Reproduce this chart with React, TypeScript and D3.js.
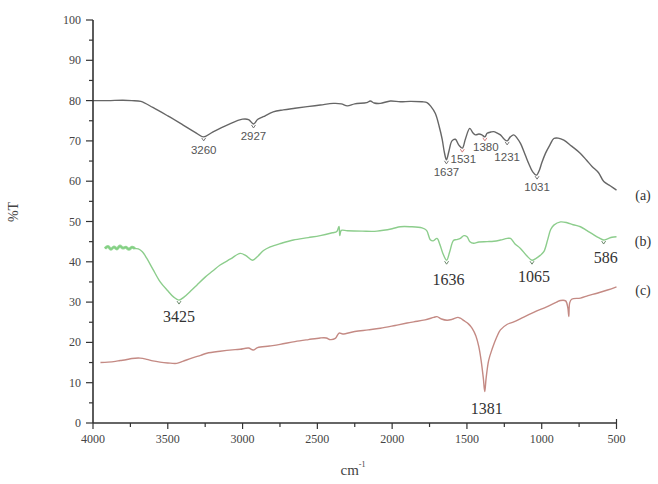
import React from "react";
import * as d3 from "d3";

const W = 658;
const H = 484;

// Series (a): wavenumber (cm^-1) and %T
const waveA = [4000, 3900, 3800, 3740, 3680, 3600, 3500, 3400, 3320, 3260, 3200, 3100, 3000, 2960, 2927, 2900, 2862, 2795, 2728, 2650, 2568, 2480, 2394, 2340, 2300, 2250, 2170, 2146, 2120, 2079, 2012, 1945, 1880, 1800, 1767, 1740, 1711, 1685, 1666, 1650, 1637, 1620, 1600, 1577, 1555, 1531, 1510, 1481, 1460, 1443, 1420, 1400, 1380, 1365, 1340, 1321, 1300, 1276, 1250, 1231, 1210, 1187, 1165, 1142, 1110, 1087, 1060, 1035, 1015, 1000, 975, 945, 919, 890, 852, 800, 741, 700, 662, 620, 585, 540, 500];
const transA = [80, 80, 80.1, 80, 79.8, 78.3, 76.2, 74, 72.2, 71, 72.2, 74, 75.4, 75.3, 74.2, 75.3, 76, 77.2, 77.7, 78.1, 78.5, 78.9, 79.3, 79.2, 78.7, 79.2, 79.5, 79.9, 79.4, 79.3, 79.9, 79.7, 79.8, 79.7, 79.5, 78.5, 76.8, 73.5, 70.5, 67, 65.3, 67.5, 70, 70.4, 69, 68.2, 70.5, 73.1, 72, 71.5, 71.7, 71.5, 71, 71.9, 72.2, 72.3, 72, 71.5, 70.4, 70, 71, 71.5, 70.7, 69.4, 66.5, 64.4, 62.3, 61.5, 62.8, 64.5, 66.9, 69, 70.6, 70.7, 70.2, 68.7, 66.9, 65.2, 63.6, 62.1, 59.9, 58.8, 57.8];

// Series (b)
const waveB = [3920, 3900, 3880, 3860, 3840, 3820, 3800, 3780, 3760, 3740, 3720, 3697, 3670, 3641, 3600, 3552, 3500, 3462, 3425, 3390, 3340, 3306, 3250, 3200, 3150, 3080, 3016, 2980, 2935, 2900, 2860, 2815, 2740, 2660, 2560, 2481, 2400, 2370, 2355, 2350, 2340, 2300, 2200, 2101, 2000, 1945, 1878, 1800, 1770, 1745, 1725, 1700, 1680, 1660, 1636, 1615, 1590, 1570, 1544, 1520, 1499, 1480, 1455, 1420, 1365, 1320, 1276, 1230, 1209, 1180, 1142, 1100, 1065, 1040, 1010, 986, 960, 940, 919, 874, 830, 790, 741, 700, 652, 620, 586, 560, 530, 500];
const transB = [43.3, 43.8, 43.1, 43.7, 43.2, 43.9, 43.4, 43.6, 43.1, 43.6, 43.3, 43.2, 42.5, 40.9, 38.2, 35.1, 32.8, 31.3, 30.5, 31.3, 33, 34.2, 36.2, 37.7, 39.2, 40.7, 42.1, 41.6, 40.4, 41.3, 42.8, 43.7, 44.6, 45.4, 46, 46.5, 47.2, 47.5, 48.8, 46.5, 47.8, 47.7, 47.6, 47.6, 48.2, 48.7, 48.7, 48.4, 47.8, 45.5, 45.2, 45.8, 44.2, 42, 40.4, 42.5, 45.3, 45.5, 45.8, 46.5, 46.2, 45, 44.6, 44.9, 45, 45.1, 45.4, 45.8, 45.8, 44.5, 43.3, 41.5, 40.4, 40.8, 41.6, 42.5, 45.5, 48, 49.1, 49.9, 49.7, 49.2, 48.7, 47.8, 46.7, 46, 45.4, 45.7, 46.1, 46.2];

// Series (c)
const waveC = [3950, 3900, 3850, 3819, 3780, 3740, 3685, 3640, 3600, 3552, 3500, 3440, 3400, 3340, 3280, 3239, 3150, 3050, 3016, 2960, 2929, 2900, 2820, 2749, 2650, 2560, 2481, 2440, 2414, 2380, 2355, 2330, 2250, 2160, 2079, 1980, 1900, 1856, 1780, 1722, 1700, 1670, 1633, 1600, 1560, 1544, 1520, 1490, 1465, 1440, 1421, 1405, 1390, 1381, 1372, 1355, 1331, 1300, 1276, 1230, 1187, 1120, 1050, 963, 900, 874, 840, 825, 819, 813, 800, 741, 690, 630, 560, 500];
const transC = [15, 15.1, 15.3, 15.5, 15.7, 16, 16.1, 15.8, 15.4, 15.1, 14.9, 14.8, 15.3, 16.1, 16.8, 17.3, 17.8, 18.2, 18.3, 18.6, 18.1, 18.7, 19.1, 19.5, 20.2, 20.7, 21.1, 21.1, 20.7, 21, 22.3, 22.1, 22.7, 23.1, 23.5, 24.2, 24.8, 25.1, 25.6, 26.2, 26.4, 25.8, 25.5, 25.7, 26.2, 26, 25.4, 24.6, 23.5, 21.6, 19, 15.5, 11, 7.8, 11, 15.5, 18.4, 21.4, 23.1, 24.5, 25.1, 26.3, 27.5, 28.9, 30, 30.4, 30.3, 28.5, 26.4, 29.8, 30.7, 31, 31.6, 32.2, 33, 33.8];

// Peak annotations
const peaksA = [3260, 2927, 1637, 1531, 1380, 1231, 1031];
const peakTA = [71, 74.2, 65.3, 68.2, 71, 70, 61.5];
const peakLabelsA = ["3260", "2927", "1637", "1531", "1380", "1231", "1031"];
const peaksB = [3425, 1636, 1065, 586];
const peakTB = [30.5, 40.4, 40.4, 45.4];
const peakLabelsB = ["3425", "1636", "1065", "586"];
const peaksC = [1381];
const peakTC = [7.8];
const peakLabelsC = ["1381"];

const seriesNames = ["(a)", "(b)", "(c)"];
const seriesEndT = [57.8, 46.2, 33.8];

const xTicks = [4000, 3500, 3000, 2500, 2000, 1500, 1000, 500];
const yTicks = [0, 10, 20, 30, 40, 50, 60, 70, 80, 90, 100];

const x = d3.scaleLinear().domain([4000, 500]).range([93, 616.5]);
const y = d3.scaleLinear().domain([0, 100]).range([423, 20]);

const line = d3
  .line<[number, number]>()
  .x((d) => x(d[0]))
  .y((d) => y(d[1]))
  .curve(d3.curveCatmullRom.alpha(0.5));

const zip = (a: number[], b: number[]): [number, number][] => a.map((v, i) => [v, b[i]]);

const colA = "#666";
const colB = "#8ccd8c";
const colC = "#c48a84";

const dyA = [17, 16, 16, 15, 14, 20, 16];
const dxA = [0, 0, 0, 1, 1, 0, 0];
const dyB = [22, 25, 22, 23];
const dxB = [0, 2, 2, 2];

export default function App() {
  const minorY = d3.range(5, 100, 10);
  const minorX = d3.range(3750, 500, -500);
  const serif = "'Liberation Serif', 'Times New Roman', serif";
  const sans = "'Liberation Sans', Arial, sans-serif";
  const noisyB = zip(waveB, transB).filter((d) => d[0] >= 3700);
  return (
    <svg
      width={W}
      height={H}
      style={{ position: "absolute", left: 0, top: 0, background: "#fff" }}
    >
      {/* series lines */}
      <path d={line(zip(waveA, transA)) || ""} fill="none" stroke={colA} strokeWidth={1.4} />
      <path d={line(zip(waveB, transB)) || ""} fill="none" stroke={colB} strokeWidth={1.4} />
      <path d={line(noisyB) || ""} fill="none" stroke="#7fd07f" strokeWidth={3} opacity={0.8} />
      <path d={line(zip(waveC, transC)) || ""} fill="none" stroke={colC} strokeWidth={1.4} />

      {/* peak markers */}
      {peaksA.map((p, i) => (
        <path key={"ma" + i} d={`M${x(p) - 2},${y(peakTA[i]) + 1}L${x(p)},${y(peakTA[i]) + 4}L${x(p) + 2},${y(peakTA[i]) + 1}`} fill="none" stroke={i === 3 || i === 4 ? "#d07070" : colA} strokeWidth={0.9} />
      ))}
      {peaksB.map((p, i) => (
        <path key={"mb" + i} d={`M${x(p) - 2},${y(peakTB[i]) + 1}L${x(p)},${y(peakTB[i]) + 4}L${x(p) + 2},${y(peakTB[i]) + 1}`} fill="none" stroke="#5a7a5a" strokeWidth={0.9} />
      ))}

      {/* peak labels */}
      {peaksA.map((p, i) => (
        <text key={"la" + i} x={x(p) + dxA[i]} y={y(peakTA[i]) + dyA[i]} textAnchor="middle" fontFamily={sans} fontSize={11.5} fill="#555">
          {peakLabelsA[i]}
        </text>
      ))}
      {peaksB.map((p, i) => (
        <text key={"lb" + i} x={x(p) + dxB[i]} y={y(peakTB[i]) + dyB[i]} textAnchor="middle" fontFamily={serif} fontSize={16} fill="#333">
          {peakLabelsB[i]}
        </text>
      ))}
      {peaksC.map((p, i) => (
        <text key={"lc" + i} x={x(p) + 2} y={y(peakTC[i]) + 22} textAnchor="middle" fontFamily={serif} fontSize={16} fill="#333">
          {peakLabelsC[i]}
        </text>
      ))}

      {/* series names */}
      {seriesNames.map((s, i) => (
        <text key={"sn" + i} x={643} y={y(seriesEndT[i]) + [10, 9, 8][i]} textAnchor="middle" fontFamily={serif} fontSize={14} fill="#333">
          {s}
        </text>
      ))}

      {/* axes */}
      <line x1={x(4000)} x2={x(4000)} y1={y(0)} y2={y(100)} stroke="#333" strokeWidth={1.6} />
      <line x1={x(4000)} x2={x(500)} y1={y(0)} y2={y(0)} stroke="#333" strokeWidth={1.6} />
      <line x1={x(500)} x2={x(500)} y1={y(0)} y2={y(0) - 4} stroke="#333" strokeWidth={1.2} />
      {yTicks.map((t) => (
        <g key={"yt" + t}>
          <line x1={x(4000) - 7} x2={x(4000)} y1={y(t)} y2={y(t)} stroke="#333" strokeWidth={1.2} />
          <text x={x(4000) - 12} y={y(t) + 4} textAnchor="end" fontFamily={serif} fontSize={12} fill="#444">
            {t}
          </text>
        </g>
      ))}
      {minorY.map((t) => (
        <line key={"ym" + t} x1={x(4000) - 4} x2={x(4000)} y1={y(t)} y2={y(t)} stroke="#333" strokeWidth={1.2} />
      ))}
      {xTicks.map((t) => (
        <g key={"xt" + t}>
          <line x1={x(t)} x2={x(t)} y1={y(0)} y2={y(0) + 6} stroke="#333" strokeWidth={1.2} />
          <text x={x(t)} y={y(0) + 20} textAnchor="middle" fontFamily={serif} fontSize={12} fill="#444">
            {t}
          </text>
        </g>
      ))}
      {minorX.map((t) => (
        <line key={"xm" + t} x1={x(t)} x2={x(t)} y1={y(0)} y2={y(0) + 4} stroke="#333" strokeWidth={1.2} />
      ))}

      {/* axis titles */}
      <text transform="translate(18,212) rotate(-90)" textAnchor="middle" fontFamily={serif} fontSize={14} fill="#444">
        %T
      </text>
      <text x={353} y={475} textAnchor="middle" fontFamily={serif} fontSize={15} fill="#444">
        cm
        <tspan dy={-8} fontSize={8}>-1</tspan>
      </text>
    </svg>
  );
}
